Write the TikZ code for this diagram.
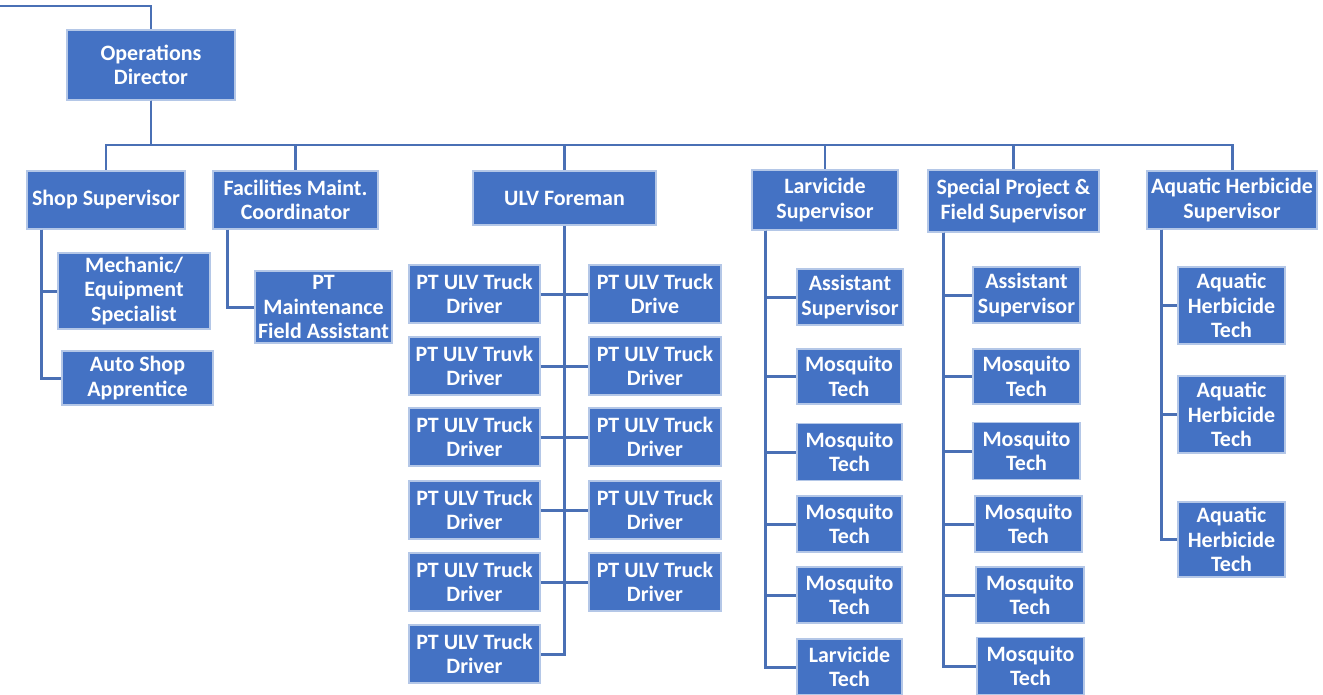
\documentclass[tikz,border=0pt]{standalone}
\usepackage{fontspec}
\setmainfont{Carlito}
\definecolor{orgBlue}{HTML}{4472C4}
\definecolor{orgRim}{HTML}{B4C7E7}
\definecolor{orgLine}{HTML}{4A70B5}

\begin{document}
\begin{tikzpicture}[x=0.02cm, y=-0.02cm,
      b/.style 2 args={draw=orgRim, line width=0.6pt, fill=orgBlue, text=white,
                minimum width=#1*0.02cm, minimum height=#2*0.02cm, inner sep=0.5pt,
                align=center, font=\fontsize{12.5}{14}\selectfont\bfseries},
      link/.style={draw=orgLine, line width=1.7pt}]
    \useasboundingbox (0,0) rectangle (1323,694);
    \coordinate (top) at (0,6);
    \coordinate (bus) at (151,145);
    % top of the chart
    \node[b={168}{70}] (od)   at (151,65)    {Operations\\Director};
    \node[b={158}{58}] (shop) at (106,200)   {Shop Supervisor};
    \node[b={165}{58}] (fac)  at (295.5,200) {Facilities Maint.\\Coordinator};
    \node[b={183}{54}] (ulv)  at (564.5,198) {ULV Foreman};
    \node[b={146}{60}] (lar)  at (825,200)   {Larvicide\\Supervisor};
    \node[b={171}{62}] (spf)  at (1013.5,201) {Special Project \&\\Field Supervisor};
    \node[b={170}{58}] (aqs)  at (1232,200)  {Aquatic Herbicide\\Supervisor};
    % shop and facilities
    \node[b={152}{76}] (mech) at (134,291)   {Mechanic/\\Equipment\\Specialist};
    \node[b={151}{54}] (auto) at (137.5,378) {Auto Shop\\Apprentice};
    \node[b={137}{72}] (ptm)  at (323.5,307) {PT\\Maintenance\\Field Assistant};
    % ULV drivers
    \node[b={131}{58}] (dl1) at (474.5,294) {PT ULV Truck\\Driver};
    \node[b={131}{58}] (dl2) at (474.5,366) {PT ULV Truvk\\Driver};
    \node[b={131}{58}] (dl3) at (474.5,437) {PT ULV Truck\\Driver};
    \node[b={131}{58}] (dl4) at (474.5,510) {PT ULV Truck\\Driver};
    \node[b={131}{58}] (dl5) at (474.5,582) {PT ULV Truck\\Driver};
    \node[b={131}{58}] (dl6) at (474.5,654) {PT ULV Truck\\Driver};
    \node[b={132}{58}] (dr1) at (655,294)   {PT ULV Truck\\Drive};
    \node[b={132}{58}] (dr2) at (655,366)   {PT ULV Truck\\Driver};
    \node[b={132}{58}] (dr3) at (655,437)   {PT ULV Truck\\Driver};
    \node[b={132}{58}] (dr4) at (655,510)   {PT ULV Truck\\Driver};
    \node[b={132}{58}] (dr5) at (655,582)   {PT ULV Truck\\Driver};
    % larvicide
    \node[b={106}{56}] (lasst) at (850,297)   {Assistant\\Supervisor};
    \node[b={104}{55}] (lm1)   at (849,376.5) {Mosquito\\Tech};
    \node[b={105}{57}] (lm2)   at (849.5,452) {Mosquito\\Tech};
    \node[b={105}{56}] (lm3)   at (849.5,524) {Mosquito\\Tech};
    \node[b={105}{56}] (lm4)   at (849.5,595) {Mosquito\\Tech};
    \node[b={105}{56}] (ltech) at (849.5,667) {Larvicide\\Tech};
    % special project
    \node[b={107}{56}] (sasst) at (1026.5,295)   {Assistant\\Supervisor};
    \node[b={107}{55}] (sm1)   at (1026.5,376.5) {Mosquito\\Tech};
    \node[b={107}{57}] (sm2)   at (1026.5,451)   {Mosquito\\Tech};
    \node[b={107}{56}] (sm3)   at (1028.5,524)   {Mosquito\\Tech};
    \node[b={108}{56}] (sm4)   at (1030,595)     {Mosquito\\Tech};
    \node[b={107}{57}] (sm5)   at (1030.5,666)   {Mosquito\\Tech};
    % aquatic
    \node[b={107}{77}] (at1) at (1231.5,305.5) {Aquatic\\Herbicide\\Tech};
    \node[b={107}{77}] (at2) at (1231.5,414.5) {Aquatic\\Herbicide\\Tech};
    \node[b={107}{75}] (at3) at (1231.5,539.5) {Aquatic\\Herbicide\\Tech};

    % connectors
    \draw[link] (top) -| (od.north);
    \foreach \n in {shop,fac,ulv,lar,spf,aqs}
      \draw[link] (od.south) -- (od.south |- bus) -| (\n.north);
    \foreach \n in {mech,auto}
      \draw[link] ([xshift=0.3cm]shop.south west) |- (\n.west);
    \draw[link] ([xshift=0.3cm]fac.south west) |- (ptm.west);
    \draw[link] (ulv.south) -- (ulv.south |- dl6.east) -- (dl6.east);
    \foreach \i in {1,...,5}
      \draw[link] (dl\i.east) -- (dr\i.west);
    \foreach \n in {lasst,lm1,lm2,lm3,lm4,ltech}
      \draw[link] ([xshift=0.28cm]lar.south west) |- (\n.west);
    \foreach \n in {sasst,sm1,sm2,sm3,sm4,sm5}
      \draw[link] ([xshift=0.32cm]spf.south west) |- (\n.west);
    \foreach \n in {at1,at2,at3}
      \draw[link] ([xshift=0.3cm]aqs.south west) |- (\n.west);
  \end{tikzpicture}
\end{document}
